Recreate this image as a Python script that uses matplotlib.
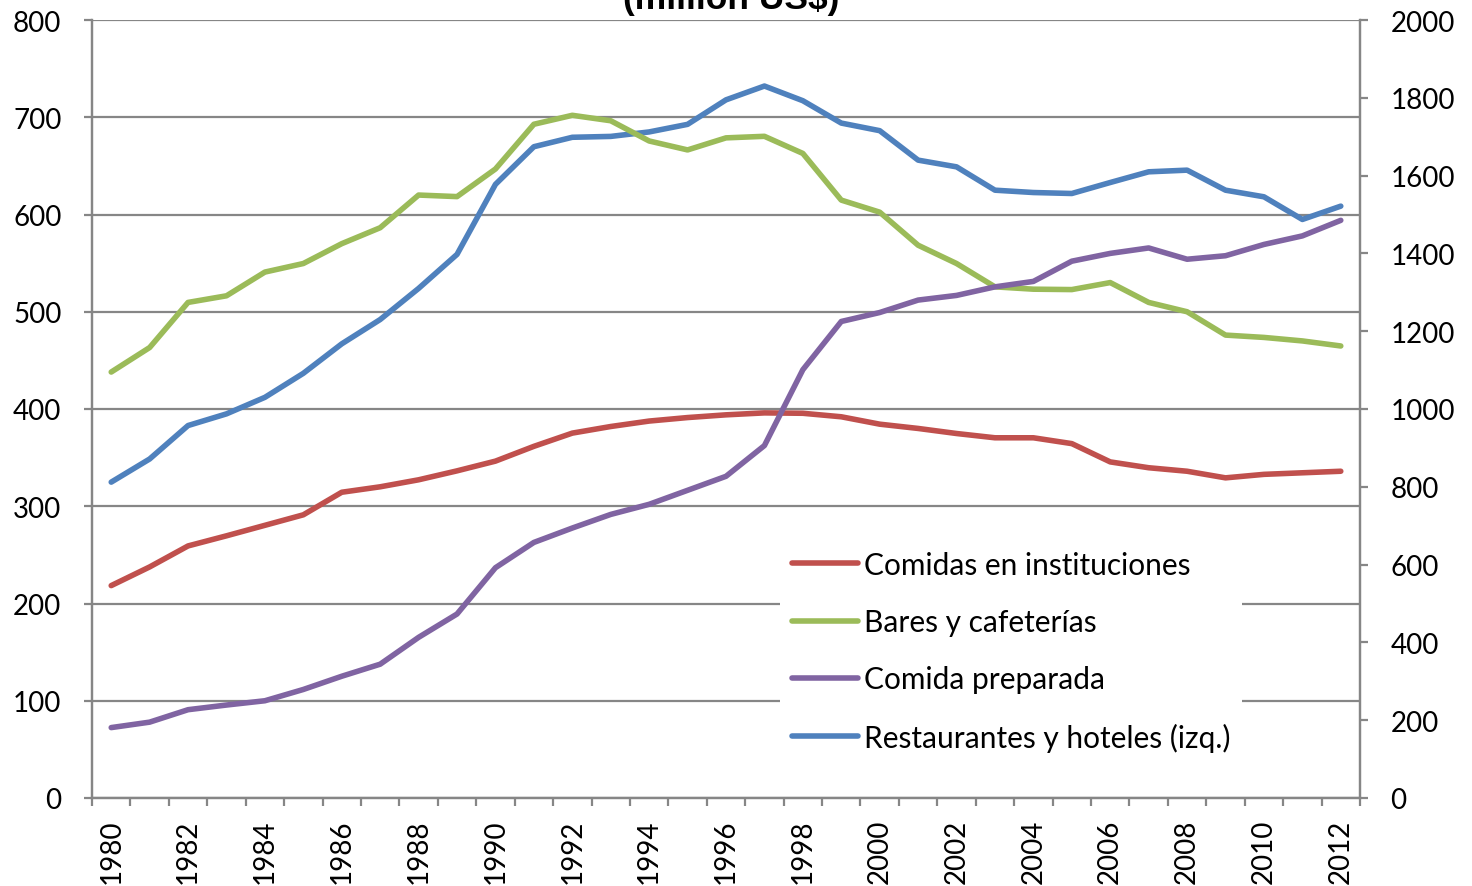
import numpy as np
import matplotlib
matplotlib.use("Agg")
from matplotlib import pyplot as plt

# values
years = np.arange(1980, 2013)
restaurantes = [324.8, 348.6, 383, 395, 412, 436.7, 467, 492, 524, 559, 631,
                669.7, 679.4, 680.3, 684.9, 692.7, 717.9, 732.1, 717, 694, 686.2,
                655.9, 649, 625, 622.6, 621.6, 632.9, 643.9, 645.6, 625, 618.2, 594.9, 608.6]
comidas_inst = [546, 594, 648, 674, 701, 728, 786, 800, 818, 841, 866,
                904, 938, 955, 969, 978, 985, 990, 989, 980, 961,
                950, 937, 926, 926, 911, 864, 849, 840, 823, 832, 836, 840]
bares = [1095, 1158, 1274, 1291, 1352, 1374, 1425, 1466, 1550, 1546, 1617,
         1732, 1755, 1741, 1689, 1666, 1697, 1701, 1657, 1537, 1506,
         1421, 1374, 1314, 1308, 1307, 1325, 1274, 1250, 1190, 1184, 1175, 1162]
comida_prep = [181, 195, 227, 239, 250, 279, 313, 344, 413, 473, 592,
               657, 694, 729, 755, 791, 827, 906, 1101, 1225, 1248,
               1280, 1292, 1314, 1328, 1380, 1400, 1414, 1385, 1394, 1423, 1445, 1485]

labels = ["Comidas en instituciones", "Bares y cafeterías", "Comida preparada",
          "Restaurantes y hoteles (izq.)"]
colors = ["#C0504D", "#9BBB59", "#8064A2", "#4F81BD"]

GRID = "#868686"
FONT = "Lato"
FS = 20
LW = 4.0

fig = plt.figure(figsize=(14.72, 8.87), dpi=100)
ax = fig.add_axes([92 / 1472, 1 - 799 / 887, 1268 / 1472, 778 / 887])
ax2 = ax.twinx()

ax.plot(years, restaurantes, color=colors[3], lw=LW, solid_capstyle="round", zorder=3)
h_red, = ax2.plot(years, comidas_inst, color=colors[0], lw=LW, solid_capstyle="round")
h_green, = ax2.plot(years, bares, color=colors[1], lw=LW, solid_capstyle="round")
h_purple, = ax2.plot(years, comida_prep, color=colors[2], lw=LW, solid_capstyle="round")
h_blue, = ax2.plot([], [], color=colors[3], lw=LW, solid_capstyle="round")

ax.set_xlim(1979.5, 2012.5)
ax.set_ylim(0, 800)
ax2.set_ylim(0, 2000)
ax.set_yticks(np.arange(0, 801, 100))
ax2.set_yticks(np.arange(0, 2001, 200))
ax.set_xticks(years[::2])
ax.set_xticks(np.arange(1979.5, 2013, 1), minor=True)

ax.grid(axis="y", color=GRID, lw=1.6)
ax.set_axisbelow(True)

for a in (ax, ax2):
    for s in a.spines.values():
        s.set_color(GRID)
        s.set_linewidth(1.6)
    a.spines["top"].set_visible(False)

ax.tick_params(axis="y", length=6, width=1.6, color=GRID, pad=16, labelsize=FS)
ax2.tick_params(axis="y", length=6, width=1.6, color=GRID, pad=16, labelsize=FS)
ax.tick_params(axis="x", which="major", length=0, pad=15, labelsize=FS, labelrotation=90)
ax.tick_params(axis="x", which="minor", length=6, width=1.6, color=GRID)
for lab in ax.get_xticklabels() + ax.get_yticklabels() + ax2.get_yticklabels():
    lab.set_family(FONT)

leg = ax2.legend([h_red, h_green, h_purple, h_blue], labels,
                 loc="upper left", bbox_to_anchor=(780 / 1472, 1 - 540 / 887),
                 bbox_transform=fig.transFigure, frameon=True, fancybox=False,
                 edgecolor="none", facecolor="white", framealpha=1,
                 prop={"family": FONT, "size": 21.5}, handlelength=2.2,
                 handletextpad=0.2, labelspacing=0.98, borderpad=0.4,
                 borderaxespad=0)

fig.text(731 / 1472, 1 - 9 / 887, "(million US$)", ha="center", va="baseline",
         family="Liberation Sans", weight="bold", fontsize=25.5)

fig.savefig("out.png", dpi=100)
